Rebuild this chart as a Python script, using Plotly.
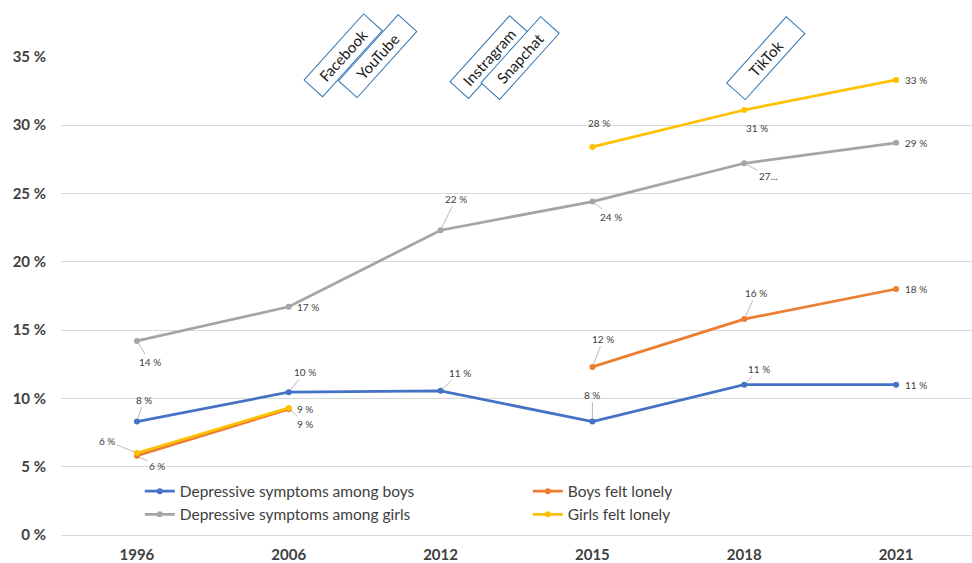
import plotly.graph_objects as go

# ---------------- data ----------------
years = ["1996", "2006", "2012", "2015", "2018", "2021"]
boys_depressive = [8.3, 10.45, 10.55, 8.3, 11.0, 11.0]
girls_depressive = [14.2, 16.7, 22.3, 24.4, 27.2, 28.7]
boys_lonely = [5.8, 9.2, None, 12.3, 15.8, 18.0]
girls_lonely = [6.0, 9.3, None, 28.4, 31.1, 33.3]
y_ticks = [0, 5, 10, 15, 20, 25, 30, 35]
platforms = ["Facebook", "YouTube", "Instragram", "Snapchat", "TikTok"]

series = [
    # name, values, color, legend rank
    ("Depressive symptoms among boys", boys_depressive, "#4472C4", 1),
    ("Depressive symptoms among girls", girls_depressive, "#A5A5A5", 3),
    ("Boys felt lonely", boys_lonely, "#ED7D31", 2),
    ("Girls felt lonely", girls_lonely, "#FFC000", 4),
]

# label placement (pixel offsets from the point, leader line flag)
label_offsets = [
    [(7, -22, True), (16, -20, True), (19, -18, True), (0, -27, True), (15, -16, True), (20, 0, False)],
    [(13, 21, True), (19, 0, False), (15, -31, True), (19, 15, True), (24, 13, True), (20, 0, False)],
    [(20, 10, True), (16, 0, False), None, (11, -28, True), (12, -26, True), (20, 0, False)],
    [(-30, -12, True), (16, 16, True), None, (7, -24, False), (13, 18, True), (20, 0, False)],
]
truncated = {(1, 4): "27..."}

# platform box placement (paper coordinates, box centre)
platform_pos = [(0.310, 1.002), (0.348, 0.999), (0.470, 0.998), (0.504, 0.996), (0.774, 0.995)]

fig = go.Figure()
for name, vals, color, rank in series:
    fig.add_trace(go.Scatter(
        x=years, y=vals, name=name, mode="lines+markers",
        line=dict(color=color, width=2.75),
        marker=dict(color=color, size=6),
        connectgaps=False, legendrank=rank,
    ))

annotations = []
for si, (name, vals, color, rank) in enumerate(series):
    for i, v in enumerate(vals):
        if v is None:
            continue
        ax, ay, leader = label_offsets[si][i]
        text = truncated.get((si, i), f"{v:.0f} %")
        annotations.append(dict(
            x=i, y=v, xref="x", yref="y", text=text,
            showarrow=True, ax=ax, ay=ay, arrowhead=0, arrowwidth=0.8,
            arrowcolor="#A6A6A6" if leader else "rgba(0,0,0,0)",
            standoff=3, font=dict(family="Lato", size=10, color="#404040"),
        ))

for p, (px, py) in zip(platforms, platform_pos):
    annotations.append(dict(
        x=px, y=py, xref="paper", yref="paper", xanchor="center", yanchor="middle",
        text=p, showarrow=False,
        textangle=-48, width=84, height=20, borderpad=2, borderwidth=1,
        bordercolor="#2E75B6", bgcolor="white",
        font=dict(family="Lato", size=15, color="#1a1a1a"),
    ))

fig.update_layout(
    width=972, height=563,
    margin=dict(l=61, r=0, t=56, b=28),
    paper_bgcolor="white", plot_bgcolor="white",
    showlegend=True,
    legend=dict(
        orientation="h", x=0.0865, y=0.126, xanchor="left", yanchor="top",
        entrywidth=343, entrywidthmode="pixels", itemwidth=30,
        bgcolor="rgba(0,0,0,0)",
        font=dict(family="Lato", size=15.5, color="#404040"),
        traceorder="normal",
    ),
    xaxis=dict(
        type="category", range=[-0.5, 5.5], showgrid=False, showline=False,
        ticks="", ticklabelstandoff=9, automargin=False,
        tickfont=dict(family="Lato", size=15, color="#404040", weight="bold"),
    ),
    yaxis=dict(
        range=[0, 35.05], tickvals=y_ticks, ticktext=[f"{t} %" for t in y_ticks],
        showgrid=True, gridcolor="#D9D9D9", gridwidth=1,
        zeroline=True, zerolinecolor="#D9D9D9", zerolinewidth=1,
        showline=False, ticks="", ticklabelstandoff=14, automargin=False,
        tickfont=dict(family="Lato", size=15, color="#404040", weight="bold"),
    ),
    annotations=annotations,
)

fig.write_html("out.html")
